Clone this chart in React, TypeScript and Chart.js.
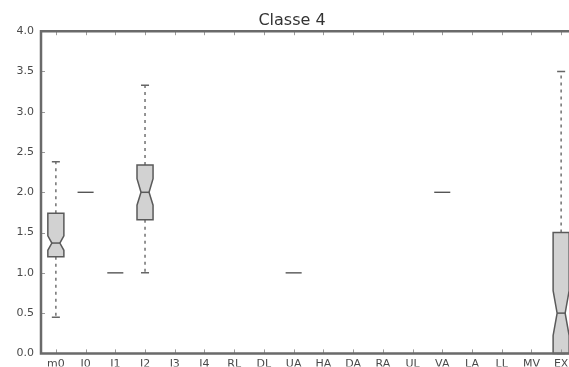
import React, { useEffect, useRef } from "react";
import { Chart, registerables } from "chart.js";

Chart.register(...registerables);

const categories = ["m0", "I0", "I1", "I2", "I3", "I4", "RL", "DL", "UA", "HA", "DA", "RA", "UL", "VA", "LA", "LL", "MV", "EX"];
const whiskerLow: (number | null)[] = [0.45, 2.0, 1.0, 1.0, null, null, null, null, 1.0, null, null, null, null, 2.0, null, null, null, 0.0];
const quartile1: (number | null)[] = [1.2, 2.0, 1.0, 1.66, null, null, null, null, 1.0, null, null, null, null, 2.0, null, null, null, 0.0];
const medians: (number | null)[] = [1.37, 2.0, 1.0, 2.0, null, null, null, null, 1.0, null, null, null, null, 2.0, null, null, null, 0.5];
const quartile3: (number | null)[] = [1.74, 2.0, 1.0, 2.34, null, null, null, null, 1.0, null, null, null, null, 2.0, null, null, null, 1.5];
const whiskerHigh: (number | null)[] = [2.38, 2.0, 1.0, 3.33, null, null, null, null, 1.0, null, null, null, null, 2.0, null, null, null, 3.5];
const notchLow: (number | null)[] = [1.28, 2.0, 1.0, 1.84, null, null, null, null, 1.0, null, null, null, null, 2.0, null, null, null, 0.22];
const notchHigh: (number | null)[] = [1.46, 2.0, 1.0, 2.17, null, null, null, null, 1.0, null, null, null, null, 2.0, null, null, null, 0.78];
const yTicks = [0, 0.5, 1, 1.5, 2, 2.5, 3, 3.5, 4];

const boxPlugin = {
  id: "boxplotDraw",
  afterDatasetsDraw(chart: any) {
    const ctx = chart.ctx as CanvasRenderingContext2D;
    const xs = chart.scales.x;
    const ys = chart.scales.y;
    const step = xs.getPixelForValue(1) - xs.getPixelForValue(0);
    const half = step * 0.27;
    ctx.save();
    for (let i = 0; i < categories.length; i++) {
      const q1 = quartile1[i];
      if (q1 == null) continue;
      const q3 = quartile3[i] as number;
      const cx = xs.getPixelForValue(i);
      const yq1 = ys.getPixelForValue(q1);
      const yq3 = ys.getPixelForValue(q3);
      const ymed = ys.getPixelForValue(medians[i] as number);
      const ywl = ys.getPixelForValue(whiskerLow[i] as number);
      const ywh = ys.getPixelForValue(whiskerHigh[i] as number);
      const ynl = ys.getPixelForValue(notchLow[i] as number);
      const ynh = ys.getPixelForValue(notchHigh[i] as number);
      const l = cx - half, r = cx + half, cl = cx - half / 2, cr = cx + half / 2;
      if (q1 === q3) {
        ctx.strokeStyle = "#555";
        ctx.lineWidth = 1.4;
        ctx.beginPath();
        ctx.moveTo(l, yq1);
        ctx.lineTo(r, yq1);
        ctx.stroke();
        continue;
      }
      // whiskers
      ctx.strokeStyle = "#7a7a7a";
      ctx.lineWidth = 1.6;
      ctx.setLineDash([3, 4]);
      ctx.beginPath();
      ctx.moveTo(cx, yq3);
      ctx.lineTo(cx, ywh);
      ctx.moveTo(cx, yq1);
      ctx.lineTo(cx, ywl);
      ctx.stroke();
      ctx.setLineDash([]);
      // caps
      ctx.strokeStyle = "#666";
      ctx.lineWidth = 1.5;
      ctx.beginPath();
      ctx.moveTo(cl, ywh);
      ctx.lineTo(cr, ywh);
      ctx.moveTo(cl, ywl);
      ctx.lineTo(cr, ywl);
      ctx.stroke();
      // notched box
      ctx.beginPath();
      ctx.moveTo(l, yq1);
      ctx.lineTo(r, yq1);
      ctx.lineTo(r, ynl);
      ctx.lineTo(cr, ymed);
      ctx.lineTo(r, ynh);
      ctx.lineTo(r, yq3);
      ctx.lineTo(l, yq3);
      ctx.lineTo(l, ynh);
      ctx.lineTo(cl, ymed);
      ctx.lineTo(l, ynl);
      ctx.closePath();
      ctx.fillStyle = "#d2d2d2";
      ctx.fill();
      ctx.strokeStyle = "#5a5a5a";
      ctx.lineWidth = 1.5;
      ctx.stroke();
      // median
      ctx.beginPath();
      ctx.moveTo(cl, ymed);
      ctx.lineTo(cr, ymed);
      ctx.stroke();
    }
    ctx.restore();
  },
  afterDraw(chart: any) {
    const ctx = chart.ctx as CanvasRenderingContext2D;
    const { left, right, top, bottom } = chart.chartArea;
    const xs = chart.scales.x;
    const ys = chart.scales.y;
    ctx.save();
    ctx.strokeStyle = "#9a9a9a";
    ctx.lineWidth = 1;
    ctx.beginPath();
    for (let i = 0; i < categories.length; i++) {
      const x = Math.round(xs.getPixelForValue(i)) + 0.5;
      ctx.moveTo(x, top);
      ctx.lineTo(x, top + 4);
      ctx.moveTo(x, bottom);
      ctx.lineTo(x, bottom - 4);
    }
    for (const v of yTicks) {
      const y = Math.round(ys.getPixelForValue(v)) + 0.5;
      ctx.moveTo(left, y);
      ctx.lineTo(left + 4, y);
    }
    ctx.stroke();
    ctx.strokeStyle = "#6a6a6a";
    ctx.lineWidth = 2.5;
    ctx.beginPath();
    ctx.moveTo(left, bottom);
    ctx.lineTo(left, top);
    ctx.lineTo(right, top);
    ctx.lineTo(right, bottom);
    ctx.closePath();
    ctx.stroke();
    ctx.restore();
  },
};

export default function App() {
  const ref = useRef<HTMLCanvasElement | null>(null);
  useEffect(() => {
    if (!ref.current) return;
    const chart = new Chart(ref.current, {
      type: "line",
      data: {
        labels: categories,
        datasets: [
          {
            label: "median",
            data: medians as any,
            showLine: false,
            pointRadius: 0,
            pointHoverRadius: 0,
          },
        ],
      },
      options: {
        animation: false,
        responsive: false,
        events: [],
        layout: { padding: { left: 8, right: 14, top: 0, bottom: 0 } },
        plugins: {
          legend: { display: false },
          tooltip: { enabled: false },
          title: {
            display: true,
            text: "Classe 4",
            color: "#333",
            font: { family: "DejaVu Sans", size: 16, weight: "normal", lineHeight: 1.2 },
            padding: { top: 11, bottom: 1 },
          },
        },
        scales: {
          x: {
            type: "category",
            offset: true,
            grid: { display: false, drawTicks: false },
            border: { display: false },
            ticks: {
              color: "#4a4a4a",
              font: { family: "DejaVu Sans", size: 11 },
              padding: 4,
              maxRotation: 0,
              autoSkip: false,
            },
            afterFit: (s: any) => {
              s.height = 13;
            },
          },
          y: {
            min: 0,
            max: 4,
            grid: { display: false, drawTicks: false },
            border: { display: false },
            ticks: {
              stepSize: 0.5,
              color: "#4a4a4a",
              font: { family: "DejaVu Sans", size: 11 },
              padding: 7,
              callback: (v: any) => Number(v).toFixed(1),
            },
            afterFit: (s: any) => {
              s.width = 33;
            },
          },
        },
      },
      plugins: [boxPlugin],
    });
    return () => chart.destroy();
  }, []);
  return (
    <div style={{ position: "fixed", left: 0, top: 0, width: 569, height: 367, overflow: "hidden", background: "#fff" }}>
      <canvas ref={ref} width={590} height={367} style={{ display: "block", width: 590, height: 367 }} />
    </div>
  );
}
